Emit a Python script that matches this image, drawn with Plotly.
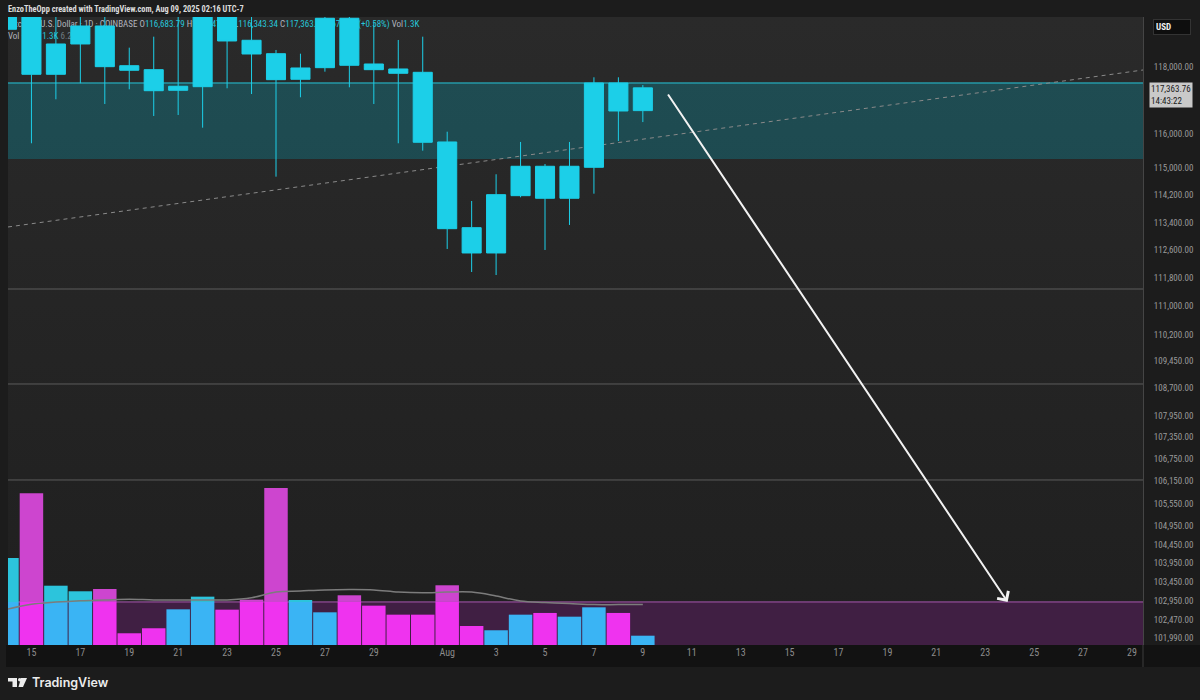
import numpy as np
import pandas as pd
import plotly.graph_objects as go

# ---------------- data ----------------
dates = pd.date_range("2025-07-14", "2025-08-09", freq="D")
opens  = [119132, 119840, 117771, 118686, 119232, 118030, 117910, 117291, 117399, 119950,
          118798, 118392, 117621, 117970, 119467, 118081, 117931, 117831, 115754, 113249,
          112520, 114178, 115038, 114102, 115008, 117510, 116683.79]
highs  = [123100, 119960, 120050, 120850, 120900, 118574, 118907, 119650, 120250, 120100,
          119550, 118504, 118392, 119800, 119800, 119333, 118807, 118907, 116058, 114023,
          114803, 115754, 115105, 115754, 117681, 117681, 117447.36]
lows   = [119100, 115715, 117022, 117501, 116882, 117321, 116524, 116554, 116177, 117351,
          117180, 114733, 117082, 117850, 117381, 116882, 115715, 115497, 112635, 111975,
          111889, 114131, 112606, 113327, 114236, 115783, 116343.34]
closes = [119840, 117771, 118686, 119232, 118000, 117892, 117279, 117411, 119950, 118777,
          118383, 117609, 117961, 119467, 118042, 117910, 117801, 115745, 113220, 112520,
          114207, 115038, 114102, 115038, 117510, 116673, 117363.76]
volume_k = [12.17, 21.22, 8.29, 7.51, 7.83, 1.64, 2.34, 4.99, 6.76, 4.94,
            6.34, 21.96, 6.29, 4.57, 6.95, 5.50, 4.24, 4.24, 8.35, 2.66,
            2.06, 4.24, 4.48, 3.96, 5.27, 4.48, 1.30]
volume_ma_k = [5.0, 5.7, 6.0, 6.2, 6.3, 6.4, 6.3, 6.3, 6.3, 6.3,
               6.6, 7.4, 7.55, 7.7, 7.75, 7.7, 7.4, 7.3, 7.4, 7.4,
               6.85, 6.15, 5.95, 5.8, 5.65, 5.65, 5.65]
volume_ma_label = "6.27K"

y_tick_vals = [118000, 116000, 115000, 114200, 113400, 112600, 111800, 111000, 110200,
               109450, 108700, 107950, 107350, 106750, 106150, 105550, 104950, 104450,
               103950, 103450, 102950, 102470, 101990]
x_tick_dates = ["2025-07-15", "2025-07-17", "2025-07-19", "2025-07-21", "2025-07-23",
                "2025-07-25", "2025-07-27", "2025-07-29", "2025-08-01", "2025-08-03",
                "2025-08-05", "2025-08-07", "2025-08-09", "2025-08-11", "2025-08-13",
                "2025-08-15", "2025-08-17", "2025-08-19", "2025-08-21", "2025-08-23",
                "2025-08-25", "2025-08-27", "2025-08-29"]
x_tick_text = ["15", "17", "19", "21", "23", "25", "27", "29", "Aug", "3", "5", "7", "9",
               "11", "13", "15", "17", "19", "21", "23", "25", "27", "29"]

# drawings (price levels / anchor points)
supply_zone = [117510, 115252]          # top, bottom
demand_zone_top = 102930
demand_zone_bottom = 101000
h_levels = [111490, 108819, 106185]
trend_dates = ["2025-07-14 01:00", "2025-08-29 10:50"]
trend_prices = [113269, 117900]
arrow_from = ("2025-08-09 23:45", 117210)
arrow_to_date = "2025-08-23 22:00"

# ---------------- style ----------------
X_RANGE = ["2025-07-14 01:00", "2025-08-29 10:50"]
LOG_RANGE = [np.log10(101805), np.log10(119506)]
VOL_MAX = 87.8
W, H = 1200, 700
ML, MR, MT, MB = 8, 57, 17, 55
PLOT_H = H - MT - MB

CANDLE = "#1ccfe8"
UP_TOP, UP_IN = "#2cc4dc", "#3ab4f4"
DN_TOP, DN_IN = "#cd45cf", "#ef33ef"
NARROW = "Liberation Sans Narrow, Arial Narrow, Roboto Condensed, Roboto, sans-serif"

up = [c >= o for o, c in zip(opens, closes)]

fig = go.Figure()

# background gradient (base subplot)
fig.add_trace(go.Scatter(
    x=[X_RANGE[0], X_RANGE[1], X_RANGE[1], X_RANGE[0], X_RANGE[0]],
    y=[10 ** LOG_RANGE[0], 10 ** LOG_RANGE[0], 10 ** LOG_RANGE[1], 10 ** LOG_RANGE[1], 10 ** LOG_RANGE[0]],
    mode="lines", line=dict(width=0), fill="toself",
    fillgradient=dict(type="vertical", colorscale=[[0, "#1f1f1f"], [1, "#2a2a2a"]]),
    hoverinfo="skip", showlegend=False, xaxis="x", yaxis="y"))

# supply zone
fig.add_trace(go.Scatter(
    x=[X_RANGE[0], X_RANGE[1], X_RANGE[1], X_RANGE[0], X_RANGE[0]],
    y=[supply_zone[0], supply_zone[0], supply_zone[1], supply_zone[1], supply_zone[0]],
    mode="lines", line=dict(width=0), fill="toself", fillcolor="rgba(0,188,212,0.24)",
    hoverinfo="skip", showlegend=False))
fig.add_trace(go.Scatter(x=X_RANGE, y=[supply_zone[0]] * 2, mode="lines",
                         line=dict(color="#26c6da", width=1), hoverinfo="skip", showlegend=False))
# demand zone
fig.add_trace(go.Scatter(
    x=[X_RANGE[0], X_RANGE[1], X_RANGE[1], X_RANGE[0], X_RANGE[0]],
    y=[demand_zone_top, demand_zone_top, demand_zone_bottom, demand_zone_bottom, demand_zone_top],
    mode="lines", line=dict(width=0), fill="toself", fillcolor="rgba(160,30,170,0.26)",
    hoverinfo="skip", showlegend=False))
fig.add_trace(go.Scatter(x=X_RANGE, y=[demand_zone_top] * 2, mode="lines",
                         line=dict(color="#a857b0", width=1), hoverinfo="skip", showlegend=False))
# horizontal levels
for lv in h_levels:
    fig.add_trace(go.Scatter(x=X_RANGE, y=[lv, lv], mode="lines",
                             line=dict(color="#5c5c5c", width=1), hoverinfo="skip", showlegend=False))
# trend line
fig.add_trace(go.Scatter(x=trend_dates, y=trend_prices, mode="lines",
                         line=dict(color="#8a8a8a", width=1, dash="4px,4px"),
                         hoverinfo="skip", showlegend=False))

# legend text (under candles)
PPL = PLOT_H / (LOG_RANGE[1] - LOG_RANGE[0])
o, h, l, c = opens[-1], highs[-1], lows[-1], closes[-1]
chg = c - o
CY = "#26c6da"
GR = "#b2b5be"
line1 = (f"<span style='color:{GR}'>Bitcoin / U.S. Dollar · 1D · COINBASE</span> "
         f"<span style='color:{GR}'>O</span><span style='color:{CY}'>{o:,.2f}</span> "
         f"<span style='color:{GR}'>H</span><span style='color:{CY}'>{h:,.2f}</span> "
         f"<span style='color:{GR}'>L</span><span style='color:{CY}'>{l:,.2f}</span> "
         f"<span style='color:{GR}'>C</span><span style='color:{CY}'>{c:,.2f}</span> "
         f"<span style='color:{CY}'>{chg:+,.2f} ({chg / o * 100:+.2f}%)</span> "
         f"<span style='color:{GR}'>Vol</span><span style='color:{CY}'>{volume_k[-1]:.1f}K</span>")
line2 = (f"<span style='color:{GR}'>Vol · BTC</span> <span style='color:{CY}'>{volume_k[-1]:.1f}K</span> "
         f"<span style='color:#6f7a80'>{volume_ma_label}</span>")
fig.add_trace(go.Scatter(
    x=[X_RANGE[0], X_RANGE[0]],
    y=[10 ** (LOG_RANGE[1] - 8 / PPL), 10 ** (LOG_RANGE[1] - 20 / PPL)],
    mode="text", text=[line1, line2], textposition="middle right",
    textfont=dict(family=NARROW, size=9), cliponaxis=False,
    hoverinfo="skip", showlegend=False))

# candles (overlay)
fig.add_trace(go.Candlestick(
    x=dates, open=opens, high=highs, low=lows, close=closes,
    increasing=dict(line=dict(color=CANDLE, width=1), fillcolor=CANDLE),
    decreasing=dict(line=dict(color=CANDLE, width=1), fillcolor=CANDLE),
    whiskerwidth=0, xaxis="x", yaxis="y3", showlegend=False, hoverinfo="skip"))

# volume (overlay) split at demand-zone level
lvl = (np.log10(demand_zone_top) - LOG_RANGE[0]) / (LOG_RANGE[1] - LOG_RANGE[0]) * VOL_MAX
vol = np.array(volume_k)
low_part = np.minimum(vol, lvl)
high_part = [v - lvl if v > lvl else None for v in vol]
bw = 0.96 * 86400000
fig.add_trace(go.Bar(x=dates, y=low_part, width=bw,
                     marker=dict(color=[UP_IN if u else DN_IN for u in up], line=dict(width=0)),
                     xaxis="x", yaxis="y4", showlegend=False, hoverinfo="skip"))
fig.add_trace(go.Bar(x=dates, y=high_part, base=[lvl] * len(vol), width=bw,
                     marker=dict(color=[UP_TOP if u else DN_TOP for u in up], line=dict(width=0)),
                     xaxis="x", yaxis="y4", showlegend=False, hoverinfo="skip"))
fig.add_trace(go.Scatter(x=dates, y=volume_ma_k, mode="lines",
                         line=dict(color="#7c7c7c", width=1.5, shape="spline"),
                         xaxis="x", yaxis="y4", showlegend=False, hoverinfo="skip"))

# arrow
fig.add_annotation(x=arrow_to_date, y=np.log10(demand_zone_top), xref="x", yref="y",
                   ax=arrow_from[0], ay=np.log10(arrow_from[1]), axref="x", ayref="y",
                   showarrow=True, arrowhead=4, arrowsize=1.3, arrowwidth=2,
                   arrowcolor="#f2f2f2", text="", standoff=0)

# header / labels
fig.add_annotation(text="<b>EnzoTheOpp created with TradingView.com, Aug 09, 2025 02:16 UTC-7</b>",
                   xref="paper", yref="paper", x=0, y=1, xanchor="left", yanchor="middle",
                   xshift=-2, yshift=8, showarrow=False,
                   font=dict(family=NARROW, size=8.3, color="#dcdcdc"))
fig.add_annotation(text="<b>USD</b>", xref="paper", yref="paper", x=1, y=1,
                   xanchor="left", yanchor="top", xshift=10, yshift=-2, showarrow=False,
                   width=32, align="left", bgcolor="#0e0e0e", bordercolor="#333333",
                   borderwidth=1, borderpad=2, font=dict(family=NARROW, size=9, color="#f0f0f0"))
fig.add_annotation(text=f"{c:,.2f}<br>14:43:22", xref="paper", yref="y", x=1, y=np.log10(c),
                   xanchor="left", yanchor="top", xshift=6, yshift=6, showarrow=False,
                   align="left", bgcolor="#c9c9c9", borderpad=1,
                   font=dict(family=NARROW, size=9, color="#1a1a1a"))
fig.add_annotation(text="TradingView", xref="paper", yref="paper", x=0, y=0,
                   xanchor="left", yanchor="middle", xshift=22, yshift=-37, showarrow=False,
                   font=dict(family="Inter, Roboto, sans-serif", size=12.5, color="#ececec", weight=600))

shapes = [
    # x-axis band
    dict(type="rect", xref="paper", yref="paper", xsizemode="pixel", ysizemode="pixel",
         xanchor=0, yanchor=0, x0=-2, x1=1192, y0=0, y1=-22,
         fillcolor="#121212", line=dict(width=0), layer="below"),
    dict(type="line", xref="paper", yref="paper", ysizemode="pixel", yanchor=0,
         x0=1, x1=1, y0=0, y1=-22, line=dict(color="#3c3c3c", width=1)),
    # TradingView logo
    dict(type="rect", xref="paper", yref="paper", xsizemode="pixel", ysizemode="pixel",
         xanchor=0, yanchor=0, x0=0, x1=9, y0=-33, y1=-36.5, fillcolor="#ececec", line=dict(width=0)),
    dict(type="rect", xref="paper", yref="paper", xsizemode="pixel", ysizemode="pixel",
         xanchor=0, yanchor=0, x0=4.5, x1=9, y0=-33, y1=-42, fillcolor="#ececec", line=dict(width=0)),
    dict(type="circle", xref="paper", yref="paper", xsizemode="pixel", ysizemode="pixel",
         xanchor=0, yanchor=0, x0=10, x1=13.5, y0=-33, y1=-36.5, fillcolor="#ececec", line=dict(width=0)),
    dict(type="path", xref="paper", yref="paper", xsizemode="pixel", ysizemode="pixel",
         xanchor=0, yanchor=0, path="M 13,-33 L 19,-33 L 15,-42 L 10.5,-42 Z",
         fillcolor="#ececec", line=dict(width=0)),
]

fig.update_layout(
    width=W, height=H, margin=dict(l=ML, r=MR, t=MT, b=MB),
    paper_bgcolor="#1c1c1c", plot_bgcolor="#262626",
    showlegend=False, barmode="overlay", boxgap=0.22, boxgroupgap=0,
    shapes=shapes,
    xaxis=dict(type="date", range=X_RANGE, tickvals=x_tick_dates, ticktext=x_tick_text,
               showgrid=False, zeroline=False, ticks="", rangeslider=dict(visible=False),
               tickfont=dict(family=NARROW, size=10, color="#8c8c8c"), fixedrange=True),
    yaxis=dict(type="log", range=LOG_RANGE, side="right", tickvals=y_tick_vals,
               ticktext=[f"{v:,.2f}" for v in y_tick_vals], showgrid=False, zeroline=False,
               showline=True, linecolor="#454545", linewidth=1, ticks="", ticklabelstandoff=8,
               tickfont=dict(family=NARROW, size=9, color="#9a9a9a")),
    yaxis3=dict(type="log", range=LOG_RANGE, overlaying="y", visible=False),
    yaxis4=dict(range=[0, VOL_MAX], overlaying="y", visible=False),
)

fig.write_html("out.html", config={"displayModeBar": False},
               post_script="document.body.style.margin='0';document.body.style.background='#1c1c1c';")
